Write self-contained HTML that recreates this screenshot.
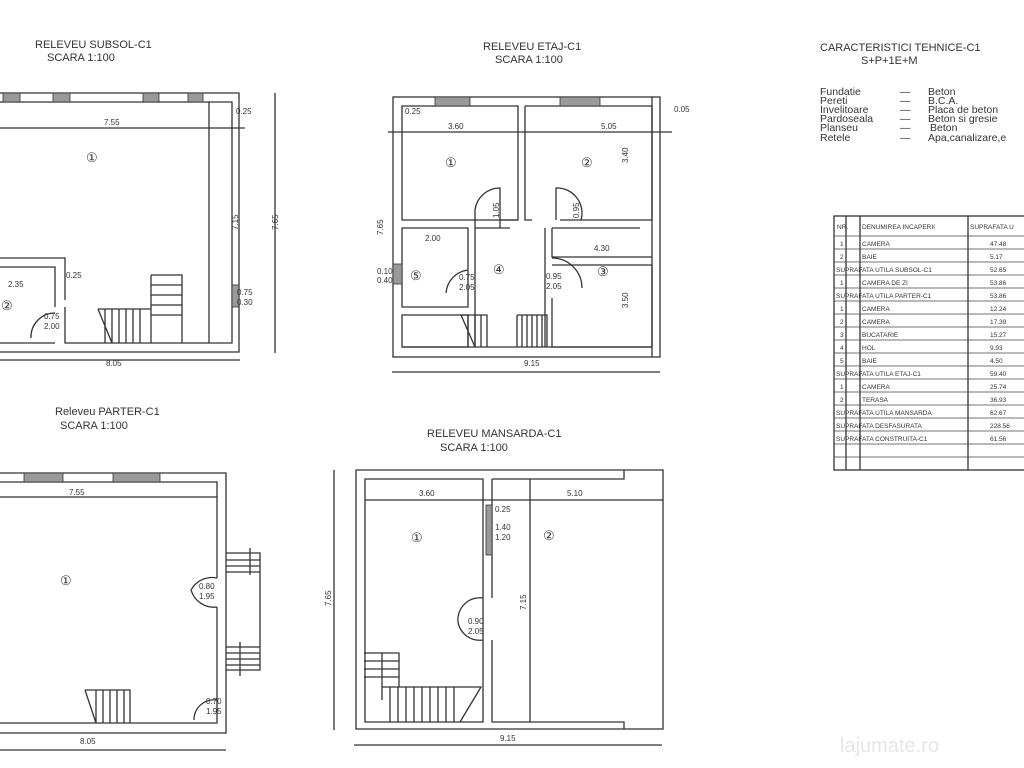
<!DOCTYPE html>
<html><head><meta charset="utf-8"><style>
html,body{margin:0;padding:0;background:#fff}
svg{display:block}
text{font-family:"Liberation Sans",sans-serif;fill:#333}
</style></head><body>
<svg width="1024" height="768" viewBox="0 0 1024 768" xmlns="http://www.w3.org/2000/svg">
<rect width="1024" height="768" fill="#fff"/>
<g fill="none" stroke="#333" stroke-width="1.3">
<path d="M-5 93 H239 V352 H-5"/>
<path d="M-5 102 H232 V343 H65 V307 M55 307 V267 H-5 M-5 258 H65 V300 M-5 343 H55"/>
<line x1="209" y1="102" x2="209" y2="343"/>
<line x1="-5" y1="128" x2="245" y2="128"/>
<line x1="275" y1="93" x2="275" y2="353"/>
<line x1="-5" y1="360" x2="240" y2="360"/>
<path d="M31 338 A24 24 0 0 1 55 313"/>
<path d="M151 275 H182 V343 M151 275 V343 M151 285 H182 M151 295 H182 M151 305 H182 M151 315 H182"/>
<path d="M98 309 H151 M98 309 L112 343 M105 309 V343 M112 309 V343 M119 309 V343 M126 309 V343 M133 309 V343 M140 309 V343"/>
<rect x="393" y="97" width="267" height="260"/>
<line x1="652" y1="97" x2="652" y2="357"/>
<path d="M402 106 H518 V220 H402 Z"/>
<path d="M525 106 H652 V220 H560 M525 106 V220 H532"/>
<path d="M402 228 H468 V307 H402 Z"/>
<path d="M402 315 H468 V347 H402 Z"/>
<path d="M475 228 H510 M475 228 V347 M545 228 V347 M545 228 V257"/>
<path d="M552 228 H640 M552 228 V257 H652 M552 265 H652 V347 H552 V298"/>
<line x1="402" y1="347" x2="652" y2="347"/>
<path d="M475 228 V210 A25 25 0 0 1 500 188 V228 M500 220 H518"/>
<path d="M556 220 V188 A25 25 0 0 1 581 220"/>
<path d="M468 270 A25 25 0 0 0 446 293"/>
<path d="M552 258 A30 30 0 0 1 582 288"/>
<path d="M461 315 H487 V347 M461 315 L475 347 M468 315 V347 M475 315 V347 M481 315 V347"/>
<path d="M517 315 H547 V347 M517 315 V347 M522 315 V347 M527 315 V347 M532 315 V347 M537 315 V347 M542 315 V347"/>
<line x1="388" y1="132" x2="672" y2="132"/>
<line x1="392" y1="372" x2="660" y2="372"/>
<path d="M-5 473 H226 V733 H-5"/>
<path d="M-5 482 H217 V578 M217 607 V723 H-5"/>
<line x1="-5" y1="497" x2="217" y2="497"/>
<path d="M217 607 A24 24 0 0 1 191 590 A24 24 0 0 1 217 578"/>
<path d="M217 700 A20 20 0 0 0 194 720"/>
<path d="M226 553 H260 V670 H226 M226 560 H260 M226 566 H260 M226 572 H260 M250 548 V575"/>
<path d="M226 647 H260 M226 653 H260 M226 659 H260 M226 665 H260 M240 642 V676"/>
<path d="M85 690 H130 V723 M85 690 L96 723 M96 690 V723 M103 690 V723 M110 690 V723 M117 690 V723 M124 690 V723"/>
<line x1="0" y1="750" x2="226" y2="750"/>
<path d="M356 470 H663 V729 H356 Z"/>
<path d="M365 479 H483 V722 H365 Z"/>
<path d="M492 479 H624 V470 M492 479 V598 M492 640 V722 H624 V729"/>
<line x1="530" y1="479" x2="530" y2="722"/>
<line x1="365" y1="500" x2="663" y2="500"/>
<path d="M483 598 A22 22 0 0 0 458 622 A22 22 0 0 0 483 640"/>
<path d="M364 653 H399 V687 M364 661 H399 M364 669 H399 M364 677 H399 M382 653 V700 M382 687 H481 L460 722 M390 687 V722 M398 687 V722 M406 687 V722 M414 687 V722 M422 687 V722 M430 687 V722 M438 687 V722 M446 687 V722 M454 687 V722"/>
<line x1="334" y1="470" x2="334" y2="730"/>
<line x1="354" y1="745" x2="662" y2="745"/>
<rect x="834" y="216" width="200" height="254"/>
<line x1="846" y1="216" x2="846" y2="470"/>
<line x1="860" y1="216" x2="860" y2="470"/>
<line x1="968" y1="216" x2="968" y2="470"/>
</g>
<g fill="#999" stroke="#333" stroke-width="0.8">
<rect x="3" y="93" width="17" height="9"/><rect x="53" y="93" width="17" height="9"/><rect x="143" y="93" width="16" height="9"/><rect x="188" y="93" width="15" height="9"/>
<rect x="232" y="285" width="7" height="22"/>
<rect x="435" y="97" width="35" height="9"/><rect x="560" y="97" width="40" height="9"/>
<rect x="393" y="264" width="9" height="20"/>
<rect x="24" y="473" width="39" height="9"/><rect x="113" y="473" width="47" height="9"/>
<rect x="486" y="505" width="6" height="50"/>
</g>
<g stroke="#444" stroke-width="0.8">
<line x1="834" y1="236" x2="1024" y2="236"/><line x1="834" y1="249" x2="1024" y2="249"/><line x1="834" y1="262" x2="1024" y2="262"/><line x1="834" y1="275" x2="1024" y2="275"/><line x1="834" y1="288" x2="1024" y2="288"/><line x1="834" y1="301" x2="1024" y2="301"/><line x1="834" y1="314" x2="1024" y2="314"/><line x1="834" y1="327" x2="1024" y2="327"/><line x1="834" y1="340" x2="1024" y2="340"/><line x1="834" y1="353" x2="1024" y2="353"/><line x1="834" y1="366" x2="1024" y2="366"/><line x1="834" y1="379" x2="1024" y2="379"/><line x1="834" y1="392" x2="1024" y2="392"/><line x1="834" y1="405" x2="1024" y2="405"/><line x1="834" y1="418" x2="1024" y2="418"/><line x1="834" y1="431" x2="1024" y2="431"/><line x1="834" y1="444" x2="1024" y2="444"/><line x1="834" y1="457" x2="1024" y2="457"/>
</g>
<g font-size="11">
<text x="35" y="48">RELEVEU SUBSOL-C1</text><text x="47" y="61">SCARA 1:100</text>
<text x="483" y="50">RELEVEU ETAJ-C1</text><text x="495" y="63">SCARA 1:100</text>
<text x="55" y="415">Releveu PARTER-C1</text><text x="60" y="429">SCARA 1:100</text>
<text x="427" y="437">RELEVEU MANSARDA-C1</text><text x="440" y="451">SCARA 1:100</text>
<text x="820" y="51">CARACTERISTICI TEHNICE-C1</text><text x="861" y="64">S+P+1E+M</text>
</g>
<g font-size="10.5">
<text x="820" y="95">Fundatie</text><text x="900" y="95">—</text><text x="928" y="95">Beton</text>
<text x="820" y="104">Pereti</text><text x="900" y="104">—</text><text x="928" y="104">B.C.A.</text>
<text x="820" y="113">Invelitoare</text><text x="900" y="113">—</text><text x="928" y="113">Placa de beton</text>
<text x="820" y="122">Pardoseala</text><text x="900" y="122">—</text><text x="928" y="122">Beton si gresie</text>
<text x="820" y="131">Planseu</text><text x="900" y="131">—</text><text x="930" y="131">Beton</text>
<text x="820" y="141">Retele</text><text x="900" y="141">—</text><text x="928" y="141">Apa,canalizare,e</text>
</g>
<g font-size="8">
<text x="104" y="125">7.55</text>
<text x="236" y="114">0.25</text><text x="66" y="278">0.25</text><text x="8" y="287">2.35</text>
<text x="237" y="295">0.75</text><text x="237" y="305">0.30</text>
<text x="44" y="319">0.75</text><text x="44" y="329">2.00</text><text x="106" y="366">8.05</text>
<text x="448" y="129">3.60</text><text x="601" y="129">5.05</text><text x="405" y="114">0.25</text>
<text x="425" y="241">2.00</text><text x="594" y="251">4.30</text>
<text x="459" y="280">0.75</text><text x="459" y="290">2.05</text>
<text x="546" y="279">0.95</text><text x="546" y="289">2.05</text>
<text x="377" y="274">0.10</text><text x="377" y="283">0.40</text>
<text x="524" y="366">9.15</text><text x="674" y="112">0.05</text>
<text x="69" y="495">7.55</text><text x="199" y="589">0.80</text><text x="199" y="599">1.95</text>
<text x="206" y="704">0.70</text><text x="206" y="714">1.95</text><text x="80" y="744">8.05</text>
<text x="419" y="496">3.60</text><text x="567" y="496">5.10</text>
<text x="495" y="512">0.25</text><text x="495" y="530">1.40</text><text x="495" y="540">1.20</text>
<text x="468" y="624">0.90</text><text x="468" y="634">2.05</text><text x="500" y="741">9.15</text>
</g>
<g font-size="8">
<text transform="translate(238 230) rotate(-90)">7.15</text>
<text transform="translate(278 230) rotate(-90)">7.65</text>
<text transform="translate(383 235) rotate(-90)">7.65</text>
<text transform="translate(628 163) rotate(-90)">3.40</text>
<text transform="translate(628 308) rotate(-90)">3.50</text>
<text transform="translate(499 218) rotate(-90)">1.05</text>
<text transform="translate(579 218) rotate(-90)">0.95</text>
<text transform="translate(331 606) rotate(-90)">7.65</text>
<text transform="translate(526 610) rotate(-90)">7.15</text>
</g>
<g font-size="13">
<text x="86" y="162">①</text><text x="1" y="310">②</text>
<text x="445" y="167">①</text><text x="581" y="167">②</text><text x="410" y="280">⑤</text><text x="493" y="274">④</text><text x="597" y="276">③</text>
<text x="60" y="585">①</text><text x="411" y="542">①</text><text x="543" y="540">②</text>
</g>
<g font-size="6.5">
<text x="837" y="229">NR.</text><text x="862" y="229">DENUMIREA  INCAPERII</text><text x="970" y="229">SUPRAFATA U</text>
<text x="840" y="246">1</text><text x="862" y="246">CAMERA</text><text x="990" y="246">47.48</text>
<text x="840" y="259">2</text><text x="862" y="259">BAIE</text><text x="990" y="259">5.17</text>
<text x="836" y="272">SUPRAFATA UTILA SUBSOL-C1</text><text x="990" y="272">52.65</text>
<text x="840" y="285">1</text><text x="862" y="285">CAMERA DE ZI</text><text x="990" y="285">53.86</text>
<text x="836" y="298">SUPRAFATA UTILA PARTER-C1</text><text x="990" y="298">53.86</text>
<text x="840" y="311">1</text><text x="862" y="311">CAMERA</text><text x="990" y="311">12.24</text>
<text x="840" y="324">2</text><text x="862" y="324">CAMERA</text><text x="990" y="324">17.39</text>
<text x="840" y="337">3</text><text x="862" y="337">BUCATARIE</text><text x="990" y="337">15.27</text>
<text x="840" y="350">4</text><text x="862" y="350">HOL</text><text x="990" y="350">9.93</text>
<text x="840" y="363">5</text><text x="862" y="363">BAIE</text><text x="990" y="363">4.50</text>
<text x="836" y="376">SUPRAFATA UTILA ETAJ-C1</text><text x="990" y="376">59.40</text>
<text x="840" y="389">1</text><text x="862" y="389">CAMERA</text><text x="990" y="389">25.74</text>
<text x="840" y="402">2</text><text x="862" y="402">TERASA</text><text x="990" y="402">36.93</text>
<text x="836" y="415">SUPRAFATA UTILA MANSARDA</text><text x="990" y="415">62.67</text>
<text x="836" y="428">SUPRAFATA DESFASURATA</text><text x="990" y="428">228.56</text>
<text x="836" y="441">SUPRAFATA CONSTRUITA-C1</text><text x="990" y="441">61.56</text>
</g>
<text x="840" y="752" font-size="20" style="fill:#e6e6e6">lajumate.ro</text>
</svg>
</body></html>
